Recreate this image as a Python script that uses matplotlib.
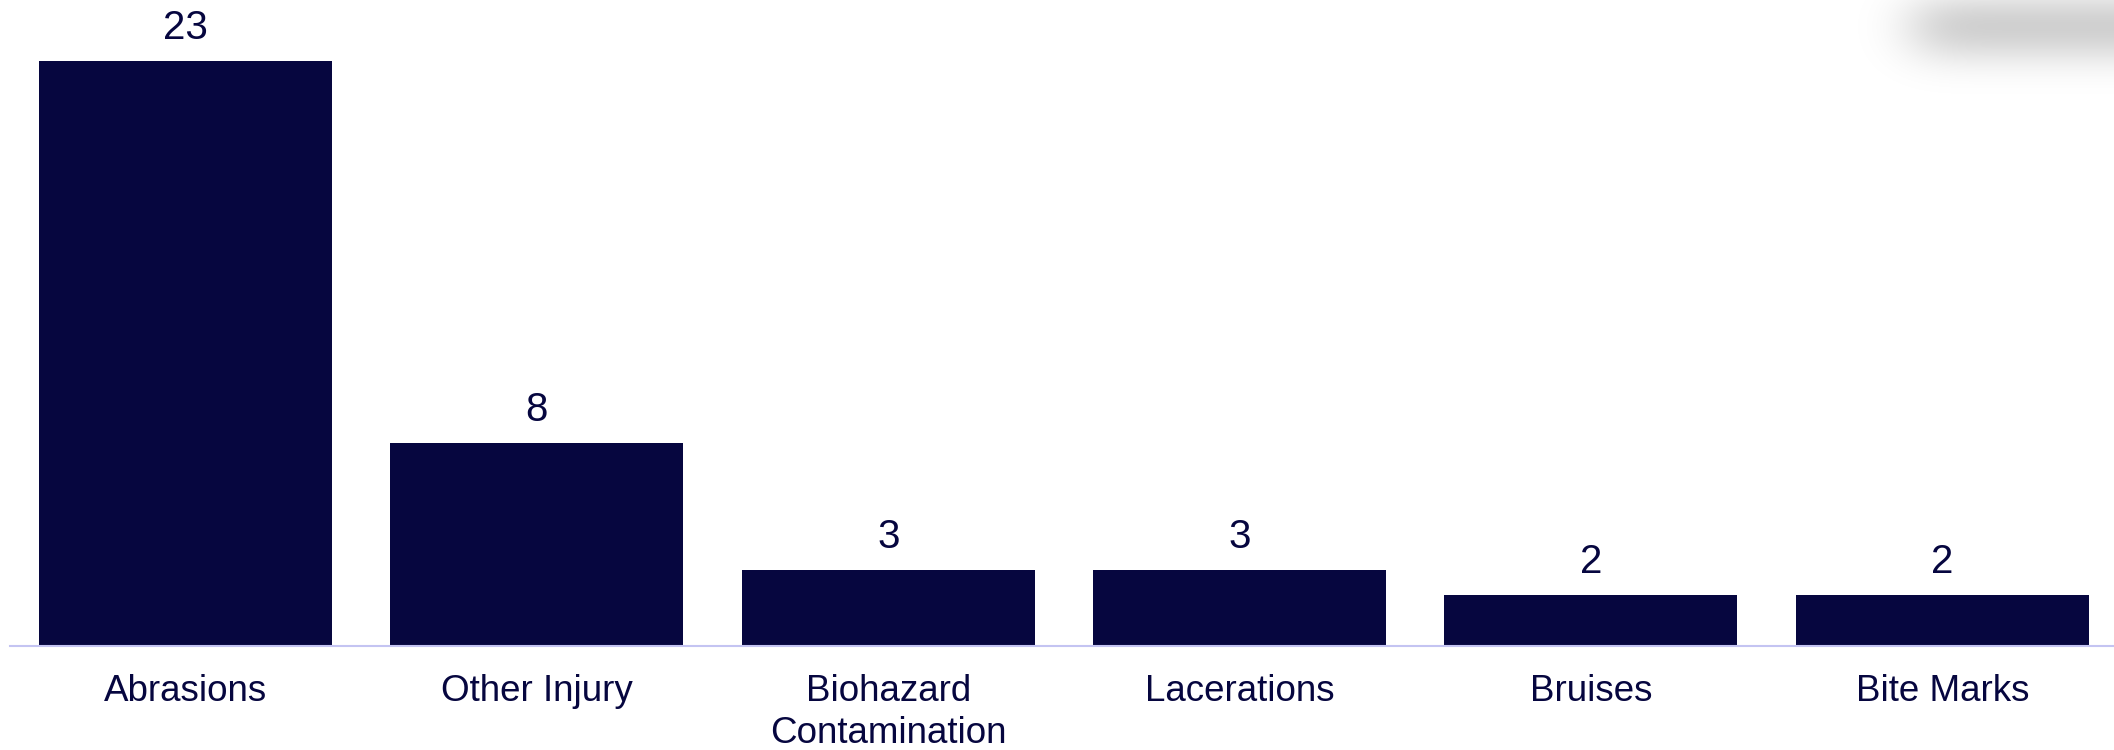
import math
import numpy as np
import matplotlib
matplotlib.use("Agg")
import matplotlib.pyplot as plt

# injury counts by type
categories = ["Abrasions", "Other Injury", "Biohazard\nContamination",
              "Lacerations", "Bruises", "Bite Marks"]
counts = [23, 8, 3, 3, 2, 2]

navy = "#06063F"
axis_col = "#C4C4F2"

plt.rcParams['font.family'] = ['Liberation Sans', 'DejaVu Sans']

W, H = 2114, 750
fig = plt.figure(figsize=(W / 100, H / 100), dpi=100)
fig.patch.set_facecolor("white")

# axes spans slot edges; right slot runs slightly past the figure edge
left_px, right_px, base_px = 9.8, 2118.0, 646.0
ax = fig.add_axes([left_px / W, (H - base_px) / H,
                   (right_px - left_px) / W, base_px / H])

x = np.arange(len(categories))
ax.bar(x, counts, width=0.834, color=navy, zorder=2)
ax.set_xlim(-0.5, len(categories) - 0.5)
ax.set_ylim(0, base_px / (585 / 23))

for xi, v in zip(x, counts):
    ax.annotate(str(v), (xi, v), xytext=(0, 15.8), textcoords="offset points",
                ha="center", va="baseline", fontsize=29, color=navy)

ax.set_xticks(x)
ax.set_xticklabels(categories, fontsize=26.5, color=navy, linespacing=1.27)
ax.tick_params(axis="x", length=0, pad=20)
ax.set_yticks([])
for s in ["top", "right", "left"]:
    ax.spines[s].set_visible(False)
ax.spines["bottom"].set_color(axis_col)
ax.spines["bottom"].set_linewidth(1.5)
ax.set_facecolor("none")

# soft grey drop shadow in the top-right corner (blurred box)
x0, y0, sw, shh = 1780, 0, W - 1780, 150
sh = fig.add_axes([x0 / W, (H - y0 - shh) / H, sw / W, shh / H])
erf = np.frompyfunc(math.erf, 1, 1)
def cdf(z):
    return 0.5 * (1 + erf(z / math.sqrt(2)).astype(float))
px = np.arange(x0, W) + 0.5
py = np.arange(y0, y0 + shh) + 0.5
PX, PY = np.meshgrid(px, py)
fx = cdf((PX - 1915) / 28)
gy = cdf((PY - 2) / 18) - cdf((PY - 52) / 20)
img = np.zeros(PX.shape + (4,))
img[..., 3] = 0.23 * fx * gy
sh.imshow(img, extent=(0, 1, 0, 1), aspect="auto", origin="upper",
          interpolation="bilinear")
sh.axis("off")

fig.savefig("out.png", dpi=100)
